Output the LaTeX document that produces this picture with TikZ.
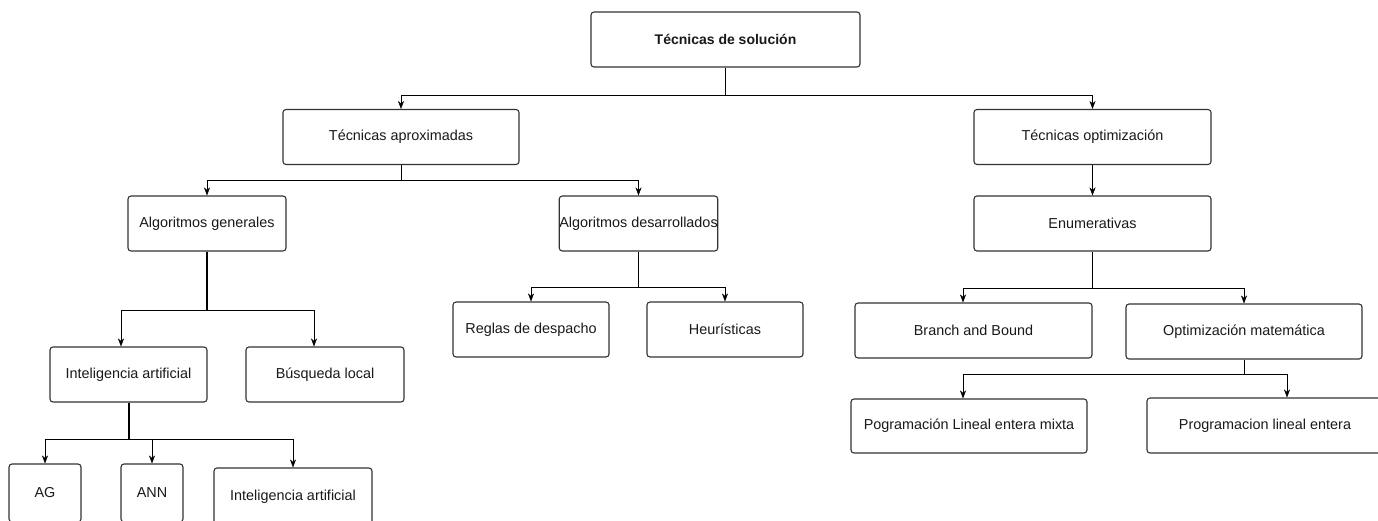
\documentclass[tikz,border=0pt]{standalone}
\usepackage{fontspec}
\setmainfont{Liberation Sans}
\usepackage{tikz}
\usetikzlibrary{arrows.meta, calc, positioning}

\definecolor{Edge}{rgb}{0.2,0.2,0.2}
\definecolor{Ink}{rgb}{0.1,0.1,0.1}

\tikzset{
    box/.style={draw=Edge, line width=1.1pt, rounded corners=3pt, fill=white,
        text=Ink, font=\fontsize{14.4}{17}\selectfont, inner sep=0pt,
        minimum height=55pt},
    link/.style={draw=black, line width=1pt},
    arr/.style={link, -{Stealth[length=8pt, width=6pt, inset=2.5pt, line width=0.4pt]}}
}

\begin{document}
\begin{tikzpicture}[x=1pt, y=-1pt]

    \useasboundingbox (0,0) rectangle (1378,521);  % page frame

    % top level
    \node[box, minimum width=269pt, font=\fontsize{14}{17}\selectfont\bfseries] (root) at (725.5,39.5) {Técnicas de solución};

    % second level
    \node[box, minimum width=236pt] (aprox) at (401,137) {Técnicas aproximadas};
    \node[box, minimum width=237pt] (optim) at (1092.5,137) {Técnicas optimización};

    % third level
    \node[box, minimum width=158pt] (gener) at (207,223.5) {Algoritmos generales};
    \node[box, minimum width=157pt] (desar) at (638.5,223.5) {Algoritmos desarrollados};
    \node[box, minimum width=237pt] (enum) at (1092.5,223.5) {Enumerativas};

    % fourth level
    \node[box, minimum width=156pt] (reglas) at (531,329.5) {Reglas de despacho};
    \node[box, minimum width=156pt] (heur) at (725,329.5) {Heurísticas};
    \node[box, minimum width=237pt] (bnb) at (973.5,330.5) {Branch and Bound};
    \node[box, minimum width=236pt] (optmat) at (1244,331.5) {Optimización matemática};
    \node[box, minimum width=157pt] (intel) at (128.5,374.5) {Inteligencia artificial};
    \node[box, minimum width=158pt] (busq) at (325,374.5) {Búsqueda local};

    % fifth level
    \node[box, minimum width=236pt, minimum height=54pt] (plem) at (969,426) {Pogramación Lineal entera mixta};
    \node[box, minimum width=236pt, minimum height=55pt] (ple) at (1265,425.5) {Programacion lineal entera};
    \node[box, minimum width=72pt, minimum height=58pt] (ag) at (45,493) {AG};
    \node[box, minimum width=62pt, minimum height=58pt] (ann) at (152,493) {ANN};
    \node[box, minimum width=158pt, minimum height=58pt] (intel2) at (293,497) {Inteligencia artificial};

    % connectors
    \draw[arr] (root.south) -- ++(0,27.5) -| (aprox.north);
    \draw[arr] (root.south) -- ++(0,27.5) -| (optim.north);

    \draw[arr] (aprox.south) -- ++(0,15.5) -| (gener.north);
    \draw[arr] (aprox.south) -- ++(0,15.5) -| (desar.north);

    \draw[arr] (optim.south) -- (enum.north);

    \draw[arr] (enum.south) -- ++(0,37) -| ([xshift=-10.5pt]bnb.north);
    \draw[arr] (enum.south) -- ++(0,37) -| (optmat.north);

    \draw[arr] (optmat.south) -- ++(0,15) -| ([xshift=-6pt]plem.north);
    \draw[arr] (optmat.south) -- ++(0,15) -| ([xshift=22pt]ple.north);

    \draw[link, line width=1.8pt] (gener.south) -- ++(0,59);
    \draw[arr] (gener.south) -- ++(0,59) -| ([xshift=-7.5pt]intel.north);
    \draw[arr] (gener.south) -- ++(0,59) -| ([xshift=-11pt]busq.north);

    \draw[arr] (desar.south) -- ++(0,36) -| (reglas.north);
    \draw[arr] (desar.south) -- ++(0,36) -| (heur.north);

    \draw[link, line width=2pt] (intel.south) -- ++(0,37);
    \draw[arr] (intel.south) -- ++(0,37) -| (ag.north);
    \draw[arr] (intel.south) -- ++(0,37) -| (ann.north);
    \draw[arr] (intel.south) -- ++(0,37) -| (intel2.north);

\end{tikzpicture}
\end{document}
